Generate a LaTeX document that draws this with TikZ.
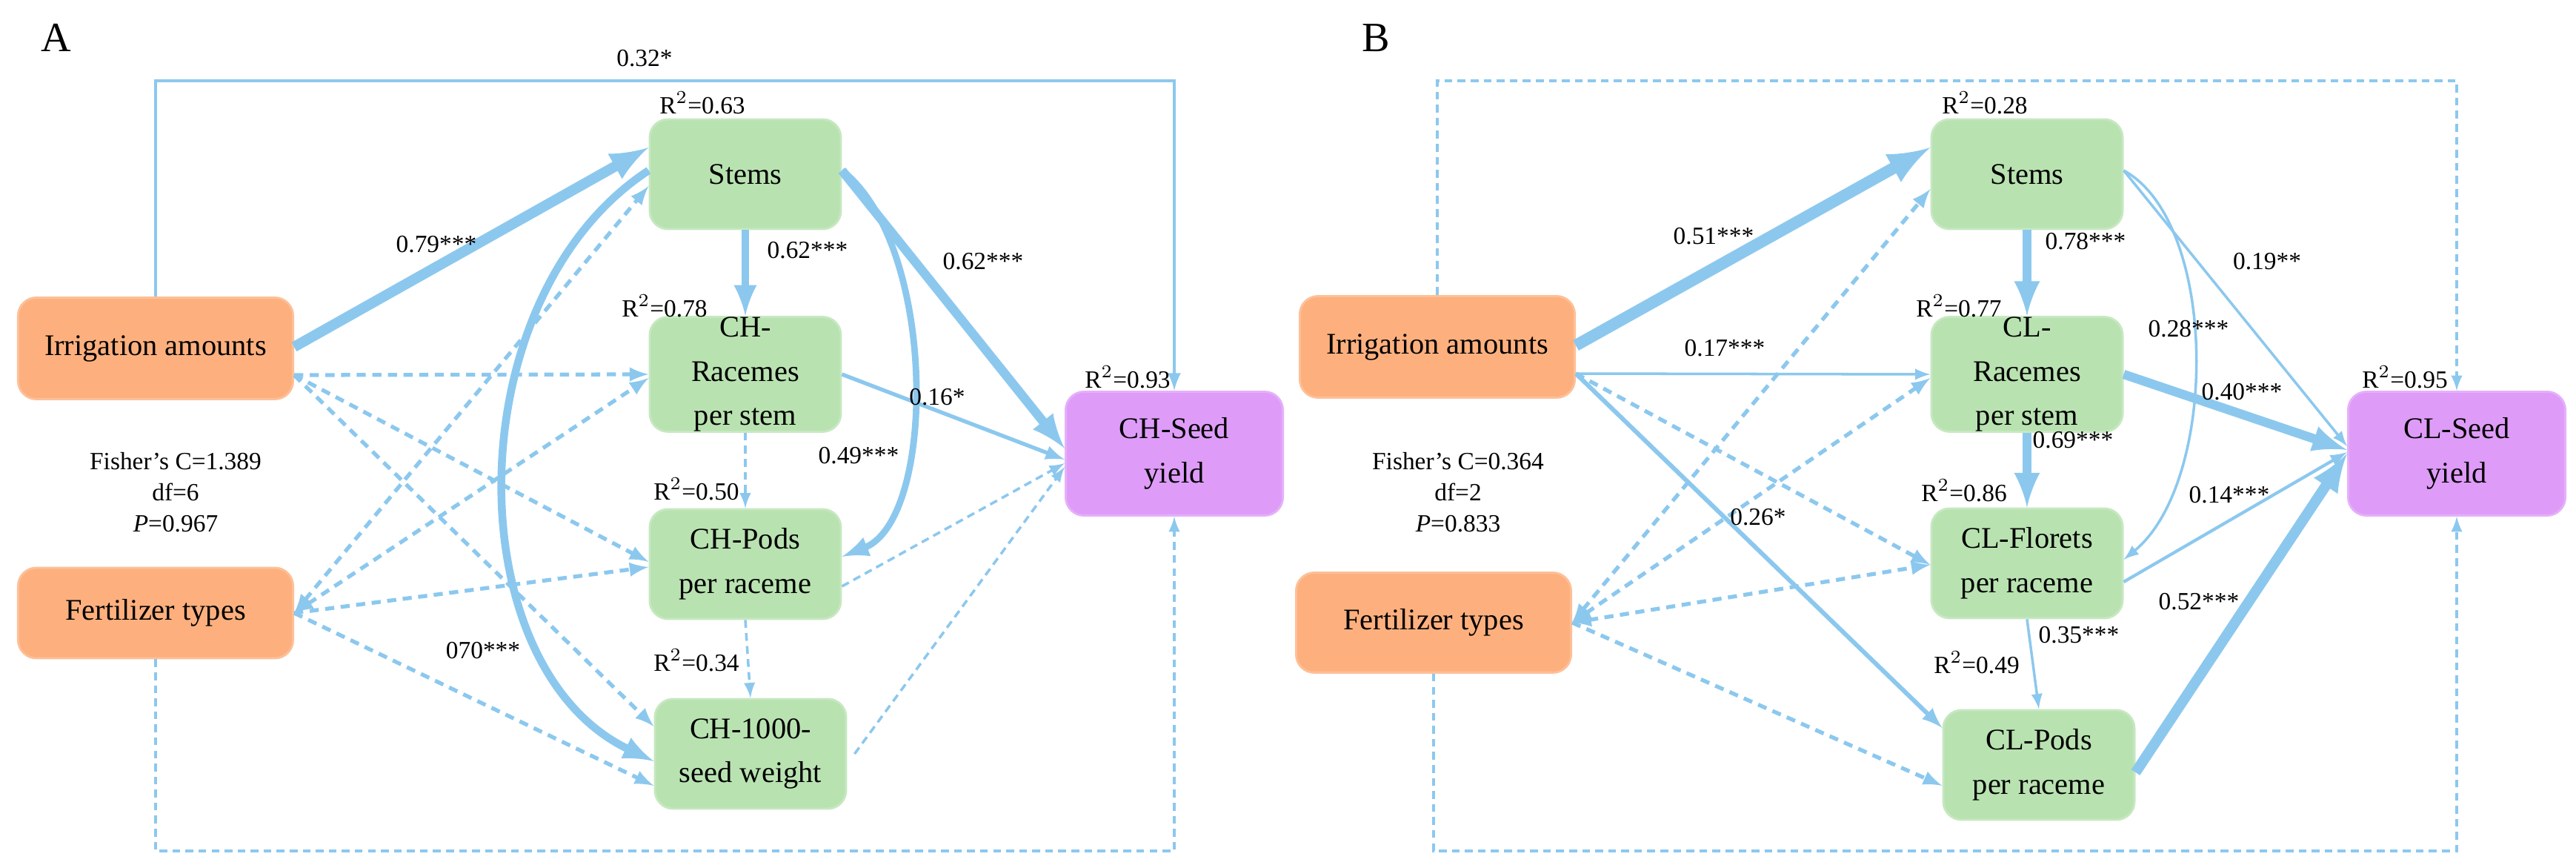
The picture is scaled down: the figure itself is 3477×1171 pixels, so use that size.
\documentclass[tikz,border=0pt]{standalone}
\usepackage{amsmath}
\usepackage{fontspec}
\setmainfont{Liberation Serif}
\usepackage{tikz}
\definecolor{arrblue}{HTML}{8CC8EE}
\definecolor{boxorange}{HTML}{FDB07E}
\definecolor{boxgreen}{HTML}{B9E2B1}
\definecolor{boxpurple}{HTML}{DE9CF8}
\tikzset{
	box/.style={rounded corners=7pt,draw=#1!80!white,line width=0.8pt,fill=#1,align=center,inner sep=0pt,font=\fontsize{11.5}{17}\selectfont},
	drv/.style={box=boxorange,minimum width=3.71cm,minimum height=1.37cm},
	mid/.style={box=boxgreen,minimum width=2.58cm,minimum height=1.48cm},
	yld/.style={box=boxpurple,minimum width=2.93cm,minimum height=1.67cm},
	lab/.style={font=\fontsize{9.5}{12}\selectfont},
	path/.style={draw=arrblue,line width=#1,-{latex}},
	path/.default=1pt,
	dsh/.style={draw=arrblue,line width=1.5pt,dash pattern=on 3.5pt off 2.5pt,-{latex}},
	thn/.style={draw=arrblue,line width=1pt,dash pattern=on 3pt off 2pt,-{latex}},
}
\begin{document}
\begin{tikzpicture}[x=0.01cm,y=-0.01cm]
	\useasboundingbox (0,0) rectangle (3477,1171) ;
	% panel A
	\node [font=\fontsize{16}{18}\selectfont] (labA) at (76,51) {A} ;
	\node [drv] (irrA) at (210,470) {Irrigation amounts} ;
	\node [drv,minimum height=1.22cm] (fertA) at (210,827) {Fertilizer types} ;
	\node [mid] (stmA) at (1006,235) {Stems} ;
	\node [mid] (racA) at (1006,505) {CH-\\Racemes\\per stem} ;
	\node [mid] (podA) at (1006,761) {CH-Pods\\per raceme} ;
	\node [mid] (swtA) at (1013,1017) {CH-1000-\\seed weight} ;
	\node [yld] (seedA) at (1585,612) {CH-Seed\\yield} ;
	\coordinate (topA) at (870,109) ;
	\coordinate (botA) at (870,1148) ;
	\draw [path=1.3pt] (irrA.north) |- (topA) -| (seedA.north) ;
	\draw [thn] (fertA.south) |- (botA) -| (seedA.south) ;
	\draw [path=4pt] ([yshift=0.02cm]irrA.east) -- ([yshift=0.36cm]stmA.west) ;
	\draw [dsh] ([yshift=-0.36cm]irrA.east) -- (racA.west) ;
	\draw [dsh] ([yshift=-0.36cm]irrA.east) -- ([yshift=0.03cm]podA.west) ;
	\draw [dsh] ([yshift=-0.36cm]irrA.east) -- ([yshift=0.37cm]swtA.west) ;
	\draw [dsh,{latex}-{latex}] (fertA.east) -- ([yshift=-0.16cm]stmA.west) ;
	\draw [dsh,{latex}-{latex}] (fertA.east) -- ([yshift=-0.05cm]racA.west) ;
	\draw [dsh] (fertA.east) -- ([yshift=-0.04cm]podA.west) ;
	\draw [dsh] (fertA.east) -- ([yshift=-0.43cm]swtA.west) ;
	\draw [path=3pt] (stmA.south) -- (racA.north) ;
	\draw [thn] (racA.south) -- (podA.north) ;
	\draw [thn] (podA.south) -- (swtA.north) ;
	\draw [path=3.5pt] ([yshift=0.05cm]stmA.east) -- ([yshift=0.07cm]seedA.west) ;
	\draw [path=1.5pt] (racA.east) -- ([yshift=-0.08cm]seedA.west) ;
	\draw [thn] ([yshift=-0.3cm]podA.east) -- ([yshift=-0.13cm]seedA.west) ;
	\draw [thn] ([xshift=0.1cm]swtA.east) -- ([yshift=-0.18cm]seedA.west) ;
	\draw [path=2.5pt] ([yshift=0.05cm]stmA.east) .. controls (1265,330) and (1265,700) .. ([yshift=0.1cm]podA.east) ;
	\draw [path=3pt] ([yshift=0.05cm]stmA.west) .. controls (615,400) and (615,900) .. ([yshift=-0.1cm]swtA.west) ;
	\node [lab] at (870,79) {0.32*} ;
	\node [lab] at (948,139) {R$^2$=0.63} ;
	\node [lab] at (589,330) {0.79***} ;
	\node [lab] at (1090,338) {0.62***} ;
	\node [lab] at (1327,353) {0.62***} ;
	\node [lab] at (897,413) {R$^2$=0.78} ;
	\node [lab] at (1522,509) {R$^2$=0.93} ;
	\node [lab] at (1265,536) {0.16*} ;
	\node [lab] at (1159,615) {0.49***} ;
	\node [lab] at (940,660) {R$^2$=0.50} ;
	\node [lab] at (652,878) {070***} ;
	\node [lab] at (940,891) {R$^2$=0.34} ;
	\node [lab,align=center] at (237,664) {Fisher's C=1.389\\df=6\\\textit{P}=0.967} ;
	% panel B
	\node [font=\fontsize{16}{18}\selectfont] (labB) at (1857,51) {B} ;
	\node [drv] (irrB) at (1940,468) {Irrigation amounts} ;
	\node [drv,minimum height=1.35cm] (fertB) at (1935,840) {Fertilizer types} ;
	\node [mid] (stmB) at (2736,235) {Stems} ;
	\node [mid] (racB) at (2736,505) {CL-\\Racemes\\per stem} ;
	\node [mid] (floB) at (2736,760) {CL-Florets\\per raceme} ;
	\node [mid] (podB) at (2752,1032) {CL-Pods\\per raceme} ;
	\node [yld] (seedB) at (3316,612) {CL-Seed\\yield} ;
	\coordinate (topB) at (2600,109) ;
	\coordinate (botB) at (2600,1148) ;
	\draw [thn] (irrB.north) |- (topB) -| (seedB.north) ;
	\draw [thn] (fertB.south) |- (botB) -| (seedB.south) ;
	\draw [path=4.5pt] ([yshift=0.02cm]irrB.east) -- ([yshift=0.36cm]stmB.west) ;
	\draw [path=1pt] ([yshift=-0.36cm]irrB.east) -- (racB.west) ;
	\draw [dsh] ([yshift=-0.36cm]irrB.east) -- ([yshift=-0.02cm]floB.west) ;
	\draw [path=1.7pt] ([yshift=-0.36cm]irrB.east) -- ([yshift=0.5cm]podB.west) ;
	\draw [dsh,{latex}-{latex}] (fertB.east) -- ([yshift=-0.2cm]stmB.west) ;
	\draw [dsh,{latex}-{latex}] (fertB.east) -- ([yshift=-0.05cm]racB.west) ;
	\draw [dsh,{latex}-{latex}] (fertB.east) -- ([yshift=-0.02cm]floB.west) ;
	\draw [dsh] (fertB.east) -- ([yshift=-0.28cm]podB.west) ;
	\draw [path=3.5pt] (stmB.south) -- (racB.north) ;
	\draw [path=3.5pt] (racB.south) -- (floB.north) ;
	\draw [path=1pt] (floB.south) -- (podB.north) ;
	\draw [path=1pt] ([yshift=0.05cm]stmB.east) -- ([yshift=0.1cm]seedB.west) ;
	\draw [path=1pt] ([yshift=0.05cm]stmB.east) .. controls (2995,300) and (2995,650) .. ([yshift=0.05cm]floB.east) ;
	\draw [path=3.5pt] (racB.east) -- ([yshift=0.05cm]seedB.west) ;
	\draw [path=1.2pt] ([yshift=-0.25cm]floB.east) -- ([yshift=0.02cm]seedB.west) ;
	\draw [path=4pt] ([yshift=-0.1cm]podB.east) -- ([yshift=0cm]seedB.west) ;
	\node [lab] at (2679,139) {R$^2$=0.28} ;
	\node [lab] at (2313,319) {0.51***} ;
	\node [lab] at (2815,326) {0.78***} ;
	\node [lab] at (3060,353) {0.19**} ;
	\node [lab] at (2644,413) {R$^2$=0.77} ;
	\node [lab] at (2954,444) {0.28***} ;
	\node [lab] at (2328,470) {0.17***} ;
	\node [lab] at (3246,509) {R$^2$=0.95} ;
	\node [lab] at (3026,529) {0.40***} ;
	\node [lab] at (2798,594) {0.69***} ;
	\node [lab] at (2651,662) {R$^2$=0.86} ;
	\node [lab] at (3009,668) {0.14***} ;
	\node [lab] at (2373,698) {0.26*} ;
	\node [lab] at (2968,812) {0.52***} ;
	\node [lab] at (2806,857) {0.35***} ;
	\node [lab] at (2668,894) {R$^2$=0.49} ;
	\node [lab,align=center] at (1968,664) {Fisher's C=0.364\\df=2\\\textit{P}=0.833} ;
\end{tikzpicture}
\end{document}
